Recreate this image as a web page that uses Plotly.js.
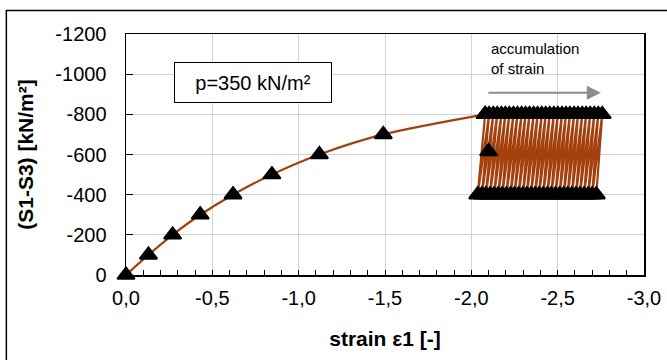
<!DOCTYPE html>
<html><head><meta charset="utf-8">
<script src="https://cdn.plot.ly/plotly-3.0.1.min.js"></script>
<style>html,body{margin:0;padding:0;background:#fff;}#chart{width:667px;height:360px;}</style>
</head><body><div id="chart"></div>
<script>
// Monotonic loading branch
const loadStrain = [0, -0.13, -0.27, -0.43, -0.62, -0.845, -1.12, -1.49, -2.08];
const loadStress = [0, -100, -200, -300, -400, -500, -600, -700, -800];
// Cyclic branch: strain at upper (-800) and lower (-400) turning points
const peakStrain = [-2.080, -2.103, -2.127, -2.150, -2.174, -2.197, -2.220, -2.244, -2.267, -2.291,
                    -2.314, -2.337, -2.361, -2.384, -2.408, -2.431, -2.454, -2.478, -2.501, -2.525,
                    -2.548, -2.571, -2.595, -2.618, -2.642, -2.665, -2.688, -2.712, -2.735, -2.758];
const troughStrain = [-2.037, -2.061, -2.084, -2.108, -2.132, -2.156, -2.179, -2.203, -2.227, -2.250,
                      -2.274, -2.298, -2.321, -2.345, -2.369, -2.392, -2.416, -2.440, -2.463, -2.487,
                      -2.511, -2.535, -2.558, -2.582, -2.606, -2.629, -2.653, -2.677, -2.700, -2.724];
const peakStress = -800;
const troughStress = -400;
// Single intermediate point
const midStrain = [-2.10];
const midStress = [-615];

const xTickVals = [0, -0.5, -1.0, -1.5, -2.0, -2.5, -3.0];
const xTickText = ['0,0', '-0,5', '-1,0', '-1,5', '-2,0', '-2,5', '-3,0'];
const yTickVals = [0, -200, -400, -600, -800, -1000, -1200];
const yTickText = ['0', '-200', '-400', '-600', '-800', '-1000', '-1200'];

const cycX = [], cycY = [];
for (let i = 0; i < peakStrain.length; i++) {
  cycX.push(peakStrain[i]); cycY.push(peakStress);
  cycX.push(troughStrain[i]); cycY.push(troughStress);
}

const LINE = '#A3400C';
const FONT = 'Liberation Sans, Arial, sans-serif';
const mk = {symbol: 'triangle-up', size: 15, color: '#000', line: {color: '#000', width: 2}};

const traces = [
  {x: cycX, y: cycY, mode: 'lines+markers', line: {color: LINE, width: 2.2}, marker: mk, hoverinfo: 'none', cliponaxis: false},
  {x: loadStrain, y: loadStress, mode: 'lines+markers', line: {color: LINE, width: 2.2, shape: 'spline', smoothing: 0.8}, marker: mk, hoverinfo: 'none', cliponaxis: false},
  {x: midStrain, y: midStress, mode: 'markers', marker: mk, hoverinfo: 'none', cliponaxis: false}
];

const layout = {
  width: 667, height: 360,
  margin: {l: 126, r: 23, t: 34, b: 85},
  paper_bgcolor: '#fff', plot_bgcolor: '#fff',
  showlegend: false,
  font: {family: FONT, color: '#000'},
  xaxis: {
    range: [0, -3], tickmode: 'array', tickvals: xTickVals, ticktext: xTickText,
    ticks: 'inside', ticklen: 5, tickcolor: '#000', tickwidth: 1,
    minor: {tick0: 0, dtick: 0.1, ticks: 'inside', ticklen: 5, tickcolor: '#000', showgrid: false},
    showgrid: true, gridcolor: '#D4D4D4', gridwidth: 1,
    showline: true, linecolor: '#000', linewidth: 1.5, mirror: true,
    zeroline: false, tickfont: {size: 20, family: FONT}, ticklabelstandoff: 4,
    title: {text: '<b>strain ε1 [-]</b>', font: {size: 21, family: FONT}, standoff: 24},
    automargin: false
  },
  yaxis: {
    range: [0, -1200], tickmode: 'array', tickvals: yTickVals, ticktext: yTickText,
    ticks: 'inside', ticklen: 7, tickcolor: '#000', tickwidth: 1,
    showgrid: true, gridcolor: '#D4D4D4', gridwidth: 1,
    showline: true, linecolor: '#000', linewidth: 1.5, mirror: true,
    zeroline: false, tickfont: {size: 20, family: FONT}, ticklabelstandoff: 14,
    title: {text: '<b>(S1-S3) [kN/m²]</b>', font: {size: 21, family: FONT}, standoff: 16},
    automargin: false
  },
  shapes: [
    {type: 'rect', xref: 'paper', yref: 'paper', x0: -0.231, x1: 1.06, y0: -0.40, y1: 1.097,
     line: {color: '#000', width: 1.5}, fillcolor: 'rgba(0,0,0,0)', layer: 'above'}
  ],
  annotations: [
    {x: -2.75, y: -907, ax: -2.09, ay: -907, axref: 'x', ayref: 'y', xref: 'x', yref: 'y',
     text: '', showarrow: true, arrowhead: 2, arrowsize: 1.4, arrowwidth: 2, arrowcolor: '#8C8C8C'},
    {x: -2.104, y: -1080, xref: 'x', yref: 'y', xanchor: 'left', yanchor: 'middle', align: 'left',
     text: 'accumulation<br>of strain', showarrow: false, font: {size: 15, family: FONT, color: '#000'}},
    {x: -0.737, y: -960, xref: 'x', yref: 'y', xanchor: 'center', yanchor: 'middle',
     text: 'p=350 kN/m²', showarrow: false, font: {size: 20, family: FONT, color: '#000'},
     bgcolor: '#fff', bordercolor: '#000', borderwidth: 1, borderpad: 1, width: 154, height: 37}
  ]
};

Plotly.newPlot('chart', traces, layout, {staticPlot: true, displayModeBar: false});
</script></body></html>
